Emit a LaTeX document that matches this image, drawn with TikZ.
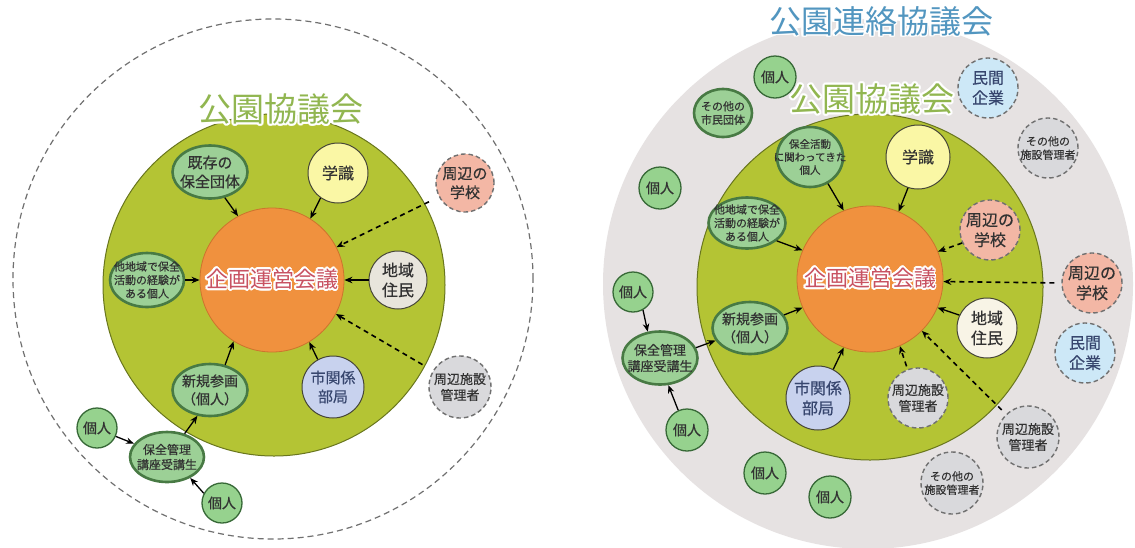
\documentclass[tikz,border=0pt]{standalone}
\usepackage{fontspec}
\setmainfont{Noto Sans CJK JP}
\newfontfamily\cf{Noto Sans CJK JP}[FakeBold=0.5]
\usepackage[copies]{contour}
\usetikzlibrary{shapes.geometric,arrows.meta}
\definecolor{ring}{RGB}{180,196,52}
\definecolor{ringedge}{RGB}{105,118,30}
\definecolor{orng}{RGB}{240,145,62}
\definecolor{orngedge}{RGB}{205,115,45}
\definecolor{ctxt}{RGB}{200,82,98}
\definecolor{ttlgreen}{RGB}{145,182,80}
\definecolor{ttlblue}{RGB}{82,150,192}
\definecolor{graybg}{RGB}{230,226,226}
\definecolor{gfill}{RGB}{156,208,150}
\definecolor{gedge}{RGB}{72,122,68}
\definecolor{kfill}{RGB}{150,210,142}
\definecolor{kedge}{RGB}{55,105,55}
\definecolor{sedge}{RGB}{70,70,55}
\definecolor{dedge}{RGB}{112,112,112}
\definecolor{txtc}{RGB}{50,50,50}
\definecolor{bluetxt}{RGB}{55,70,110}
\definecolor{yelf}{RGB}{250,247,165}
\definecolor{pinkf}{RGB}{243,183,165}
\definecolor{beigeL}{RGB}{232,229,220}
\definecolor{beigeR}{RGB}{248,244,230}
\definecolor{bluef}{RGB}{200,210,238}
\definecolor{greyf}{RGB}{217,217,220}
\definecolor{skyf}{RGB}{205,232,247}
\contourlength{1.8pt}
\contournumber{16}
\newcommand\ent[5][]{\node[#2] (#3) at (#4) {};\node[tx,#1] (#3-t) at (#3) {#5};}
\tikzset{
 tx/.style={align=center, text=txtc, inner sep=0pt},
 gell/.style={ellipse, draw=gedge, line width=2.6pt, fill=gfill, inner sep=0pt},
 kojin/.style={circle, draw=kedge, line width=1.3pt, fill=kfill, minimum size=40pt, inner sep=0pt},
 solidc/.style={circle, draw=sedge, line width=1pt, inner sep=0pt},
 dashc/.style={circle, draw=dedge, line width=1.4pt, dash pattern=on 4.5pt off 3pt, inner sep=0pt},
 arr/.style={-{Stealth[length=8pt,width=6.5pt]}, line width=1.3pt, black},
 darr/.style={arr, dash pattern=on 5pt off 4pt, line width=1.6pt},
 f16/.style={font=\cf\fontsize{16}{20}\selectfont},
 f15/.style={font=\cf\fontsize{15}{19}\selectfont},
 f14/.style={font=\cf\fontsize{14}{18}\selectfont},
 f13/.style={font=\cf\fontsize{13}{16}\selectfont},
 f12/.style={font=\cf\fontsize{12}{15}\selectfont},
 f11/.style={font=\cf\fontsize{11}{13.5}\selectfont},
 f10/.style={font=\cf\fontsize{10.5}{13}\selectfont},
}
\begin{document}
\begin{tikzpicture}[x=1pt,y=-1pt]
\useasboundingbox (0,0) rectangle (1135,547);
\fill[white] (0,0) rectangle (1135,547);
% ===== LEFT =====
\node[circle, minimum size=520pt, draw=dedge, line width=1.2pt, dash pattern=on 6pt off 4pt, inner sep=0pt] (Louter) at (273,279) {};
\node[circle, fill=ring, draw=ringedge, line width=1pt, minimum size=342pt, inner sep=0pt] (Lgreen) at (274,285) {};
\node[circle, fill=orng, draw=orngedge, line width=.8pt, minimum size=144pt, inner sep=0pt] (Lorg) at (272,280) {};
\node[font=\fontsize{22}{26}\selectfont, text=ctxt, inner sep=0pt] (Lorg-t) at (Lorg) {\contour{white}{企画運営会議}};
\node[font=\fontsize{33}{36}\selectfont, text=ttlgreen, inner sep=0pt] (Ltitle) at (281,110) {\contour{white}{公園協議会}};

\ent[f15]{gell, minimum width=75pt, minimum height=53pt}{Lkizon}{210,172}{既存の\\保全団体}
\ent[f11]{gell, minimum width=74pt, minimum height=54pt}{Ltachiki}{147,280}{他地域で保全\\活動の経験が\\ある個人}
\ent[f16]{solidc, fill=yelf, minimum size=60pt}{Lgaku}{338,173}{学識}
\ent[f15]{dashc, fill=pinkf, minimum size=58pt}{Lschool}{465,183}{周辺の\\学校}
\ent[f16]{solidc, fill=beigeL, minimum size=58pt}{Lchiiki}{398,280}{地域\\住民}
\ent[f15,text=bluetxt]{solidc, fill=bluef, minimum size=62pt}{Lshi}{333,387}{市関係\\部局}
\ent[f13]{dashc, fill=greyf, minimum size=62pt}{Lshisetsu}{460,387}{周辺施設\\管理者}
\ent[f14]{gell, minimum width=75pt, minimum height=52pt}{Lshinki}{210,390}{新規参画\\（個人）}
\ent[f12]{gell, minimum width=74pt, minimum height=50pt}{Lhozen}{167,457}{保全管理\\講座受講生}
\ent[f14]{kojin}{Lko1}{97,428}{個人}
\ent[f14]{kojin}{Lko2}{222,503}{個人}

\draw[arr] (Lkizon.-60) -- (Lorg.118);
\draw[arr] (Lgaku.-125) -- (Lorg.58);
\draw[darr, shorten <=11pt] (Lschool.208) -- (Lorg.27);
\draw[arr] (Lchiiki.180) -- (Lorg.0);
\draw[darr, shorten <=12pt] (Lshisetsu.149) -- (Lorg.-28);
\draw[arr] (Lshi.119) -- (Lorg.-59);
\draw[arr] (Lshinki.59) -- (Lorg.-122);
\draw[arr] (Ltachiki.0) -- (Lorg.180);
\draw[arr] (Lhozen.53) -- (Lshinki.-116);
\draw[arr] (Lko1.-24) -- (Lhozen.158);
\draw[arr] (Lko2.152) -- (Lhozen.-42);

% ===== RIGHT =====
\node[circle, fill=graybg, minimum size=530pt, inner sep=0pt] (Rgray) at (868,284) {};
\node[font=\fontsize{32}{35}\selectfont, text=ttlblue, inner sep=0pt] (Rtitle) at (881,22) {\contour{white}{公園連絡協議会}};
\node[circle, fill=ring, draw=ringedge, line width=1pt, minimum size=346pt, inner sep=0pt] (Rgreen) at (870,287) {};
\node[circle, fill=orng, draw=orngedge, line width=.8pt, minimum size=146pt, inner sep=0pt] (Rorg) at (870,279) {};
\node[font=\fontsize{22}{26}\selectfont, text=ctxt, inner sep=0pt] (Rorg-t) at (Rorg) {\contour{white}{企画運営会議}};
\node[font=\fontsize{33}{36}\selectfont, text=ttlgreen, inner sep=0pt] (Rtitle2) at (872,100) {\contour{white}{公園協議会}};

\ent[f10]{gell, minimum width=66pt, minimum height=60pt}{Rkakawari}{810,157}{保全活動\\に関わってきた\\個人}
\ent[f11]{gell, minimum width=77pt, minimum height=51pt}{Rtachiki}{747,223}{他地域で保全\\活動の経験が\\ある個人}
\ent[f16]{solidc, fill=yelf, minimum size=64pt}{Rgaku}{918,157}{学識}
\ent[f16]{dashc, fill=pinkf, minimum size=60pt}{Rschool1}{990,230}{周辺の\\学校}
\ent[f16]{dashc, fill=pinkf, minimum size=60pt}{Rschool2}{1092,283}{周辺の\\学校}
\ent[f16]{solidc, fill=beigeR, minimum size=60pt}{Rchiiki}{987,328}{地域\\住民}
\ent[f16,text=bluetxt]{dashc, fill=skyf, minimum size=60pt}{Rminkan1}{988,88}{民間\\企業}
\ent[f16,text=bluetxt]{dashc, fill=skyf, minimum size=60pt}{Rminkan2}{1085,353}{民間\\企業}
\ent[f11]{dashc, fill=greyf, minimum size=60pt}{Rsonota1}{1048,148}{その他の\\施設管理者}
\ent[f11]{dashc, fill=greyf, minimum size=62pt}{Rsonota2}{952,483}{その他の\\施設管理者}
\ent[f13]{dashc, fill=greyf, minimum size=60pt}{Rshisetsu1}{918,398}{周辺施設\\管理者}
\ent[f13]{dashc, fill=greyf, minimum size=62pt}{Rshisetsu2}{1028,437}{周辺施設\\管理者}
\ent[f16,text=bluetxt]{solidc, fill=bluef, minimum size=64pt}{Rshi}{818,398}{市関係\\部局}
\ent[f14]{gell, minimum width=75pt, minimum height=52pt}{Rshinki}{750,328}{新規参画\\（個人）}
\ent[f13]{gell, minimum width=75pt, minimum height=53pt}{Rhozen}{660,358}{保全管理\\講座受講生}
\ent[f11]{gell, minimum width=58pt, minimum height=48pt}{Rshimin}{723,113}{その他の\\市民団体}
\ent[f14]{kojin}{Rko1}{633,292}{個人}
\ent[f14]{kojin, minimum size=42pt}{Rko2}{687,430}{個人}
\ent[f14]{kojin, minimum size=42pt}{Rko3}{765,473}{個人}
\ent[f14]{kojin, minimum size=42pt}{Rko4}{830,497}{個人}
\ent[f14]{kojin, minimum size=42pt}{Rko5}{775,77}{個人}
\ent[f14]{kojin, minimum size=42pt}{Rko6}{660,188}{個人}

\draw[arr] (Rkakawari.-56) -- (Rorg.111);
\draw[arr] (Rtachiki.-31) -- (Rorg.157);
\draw[arr] (Rgaku.-108) -- (Rorg.67);
\draw[darr] (Rschool1.205) -- (Rorg.22);
\draw[darr, shorten <=7pt] (Rschool2.180) -- (Rorg.-2);
\draw[arr] (Rchiiki.155) -- (Rorg.-23);
\draw[darr, shorten <=3pt] (Rshisetsu1.110) -- (Rorg.-66);
\draw[darr, shorten <=6pt] (Rshisetsu2.134) -- (Rorg.-45);
\draw[arr] (Rshi.62) -- (Rorg.-111);
\draw[arr] (Rshinki.21) -- (Rorg.-157);
\draw[arr] (Rhozen.16) -- (Rshinki.-160);
\draw[arr] (Rko1.-61) -- (Rhozen.115);
\draw[arr] (Rko2.114) -- (Rhozen.-73);
\end{tikzpicture}
\end{document}
